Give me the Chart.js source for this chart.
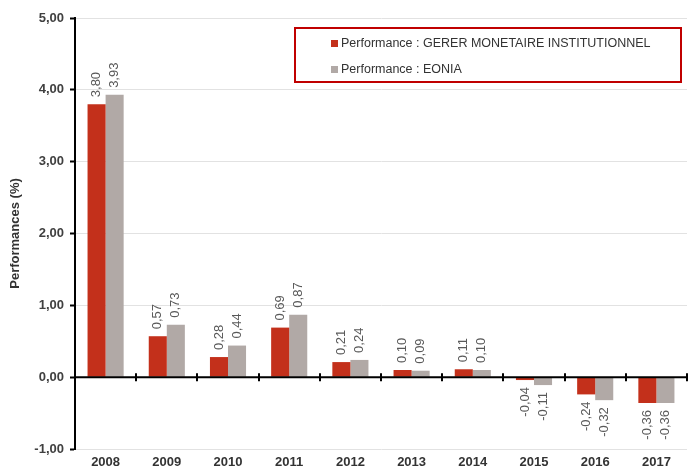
<!DOCTYPE html>
<html lang="fr">
<head>
    <meta charset="UTF-8">
    <title>Performances</title>
    <style>
        body {
            margin: 0;
            background-color: #fff;
        }
        #wrap {
            width: 690px;
            height: 473px;
        }
    </style>
</head>
<body>
    <div id="wrap">
        <canvas id="perf-chart" width="690" height="473"></canvas>
    </div>

    <script src="https://cdn.jsdelivr.net/npm/chart.js"></script>

    <script>
        // data
        const years = ['2008', '2009', '2010', '2011', '2012', '2013', '2014', '2015', '2016', '2017'];
        const fundPerf = [3.80, 0.57, 0.28, 0.69, 0.21, 0.10, 0.11, -0.04, -0.24, -0.36];
        const eoniaPerf = [3.93, 0.73, 0.44, 0.87, 0.24, 0.09, 0.10, -0.11, -0.32, -0.36];
        const seriesNames = ['Performance : GERER MONETAIRE INSTITUTIONNEL', 'Performance : EONIA'];
        const yMin = -1;
        const yMax = 5;

        const RED = '#c3301b';
        const GREY = '#b1a9a6';
        const FONT = '"Liberation Sans", Arial, sans-serif';

        function fr(v) {
            return v.toFixed(2).replace('.', ',');
        }

        // zero line + category ticks, value labels and the boxed legend
        const extras = {
            id: 'extras',
            afterDatasetsDraw(chart) {
                const ctx = chart.ctx;
                const area = chart.chartArea;
                const y = chart.scales.y;
                const y0 = y.getPixelForValue(0);

                ctx.save();
                ctx.strokeStyle = '#000';
                ctx.lineWidth = 2;
                ctx.beginPath();
                ctx.moveTo(area.left, y0);
                ctx.lineTo(area.right, y0);
                const step = (area.right - area.left) / years.length;
                for (let i = 1; i <= years.length; i++) {
                    const px = Math.round(area.left + i * step);
                    ctx.moveTo(px, y0 - 4);
                    ctx.lineTo(px, y0 + 4);
                }
                ctx.stroke();

                // rotated value labels
                ctx.font = '13px ' + FONT;
                ctx.fillStyle = '#595959';
                ctx.textBaseline = 'middle';
                chart.data.datasets.forEach((ds, di) => {
                    const meta = chart.getDatasetMeta(di);
                    meta.data.forEach((bar, i) => {
                        const v = ds.data[i];
                        ctx.save();
                        if (v >= 0) {
                            ctx.translate(bar.x, bar.y - 7);
                            ctx.rotate(-Math.PI / 2);
                            ctx.textAlign = 'left';
                        } else {
                            ctx.translate(bar.x, bar.y + 7);
                            ctx.rotate(-Math.PI / 2);
                            ctx.textAlign = 'right';
                        }
                        ctx.fillText(fr(v), 0, 0);
                        ctx.restore();
                    });
                });

                // legend box
                ctx.strokeStyle = '#c00000';
                ctx.lineWidth = 2;
                ctx.strokeRect(295, 28, 386, 54);
                ctx.font = '12.5px ' + FONT;
                ctx.textAlign = 'left';
                const colors = [RED, GREY];
                seriesNames.forEach((name, i) => {
                    const ly = 43 + i * 26;
                    ctx.fillStyle = colors[i];
                    ctx.fillRect(331, ly - 3, 7, 7);
                    ctx.fillStyle = '#333';
                    ctx.fillText(name, 341, ly + 1);
                });
                ctx.restore();
            }
        };

        new Chart(document.getElementById('perf-chart'), {
            type: 'bar',
            data: {
                labels: years,
                datasets: [
                    { label: seriesNames[0], data: fundPerf, backgroundColor: RED, borderWidth: 0 },
                    { label: seriesNames[1], data: eoniaPerf, backgroundColor: GREY, borderWidth: 0 }
                ]
            },
            options: {
                responsive: false,
                animation: false,
                devicePixelRatio: 1,
                categoryPercentage: 0.59,
                barPercentage: 1,
                layout: { padding: { top: 18, right: 3, bottom: 0, left: 0 } },
                plugins: {
                    legend: { display: false },
                    tooltip: { enabled: false }
                },
                scales: {
                    x: {
                        grid: { display: false, drawTicks: false },
                        border: { display: false },
                        ticks: {
                            color: '#333',
                            font: { family: FONT, size: 13, weight: 'bold' },
                            padding: 6
                        },
                        afterFit(scale) { scale.height = 24; }
                    },
                    y: {
                        min: yMin,
                        max: yMax,
                        ticks: {
                            stepSize: 1,
                            color: '#404040',
                            padding: 6,
                            font: { family: FONT, size: 13, weight: 'bold' },
                            callback: v => fr(v)
                        },
                        grid: {
                            color: '#e2e2e2',
                            lineWidth: 1,
                            tickColor: '#000',
                            tickLength: 5,
                            tickWidth: 2
                        },
                        border: { display: true, color: '#000', width: 2 },
                        title: {
                            display: true,
                            text: 'Performances (%)',
                            color: '#333',
                            font: { family: FONT, size: 13, weight: 'bold' },
                            padding: { top: 8, bottom: 0 }
                        },
                        afterFit(scale) { scale.width = 75; }
                    }
                }
            },
            plugins: [extras]
        });
    </script>
</body>
</html>
